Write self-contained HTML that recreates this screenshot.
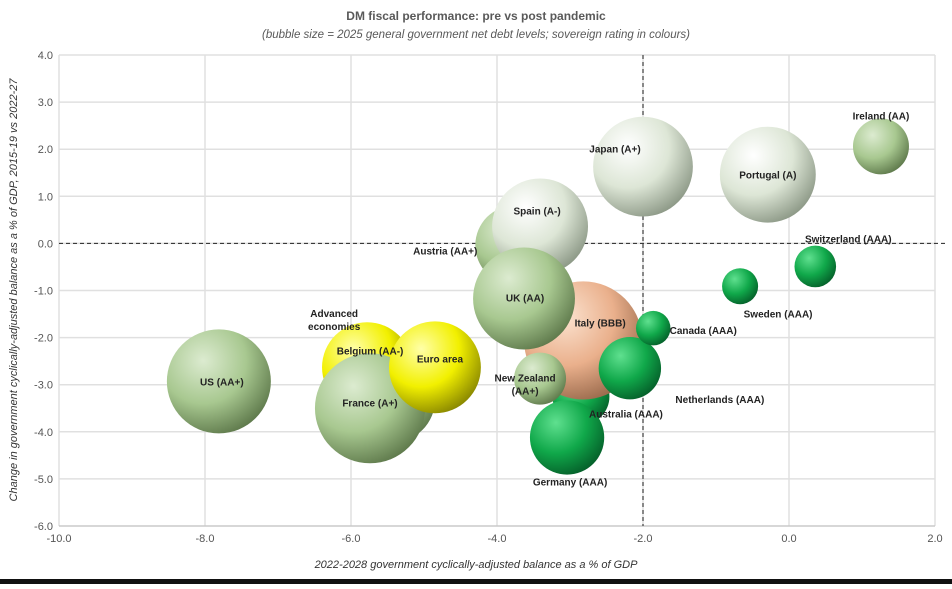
<!DOCTYPE html>
<html><head><meta charset="utf-8"><style>
body{margin:0;background:#fff;width:952px;height:584px;overflow:hidden;font-family:"Liberation Sans",sans-serif}
svg text{font-family:"Liberation Sans",sans-serif}
</style></head><body>
<svg id="c" width="952" height="584">
<defs>
<radialGradient id="gLight" cx="35%" cy="30%" r="75%"><stop offset="0" stop-color="#dcebd0"/><stop offset="0.55" stop-color="#a8c890"/><stop offset="1" stop-color="#5f7a4c"/></radialGradient>
<radialGradient id="gWhite" cx="35%" cy="30%" r="75%"><stop offset="0" stop-color="#ffffff"/><stop offset="0.55" stop-color="#dde6d6"/><stop offset="1" stop-color="#8d9987"/></radialGradient>
<radialGradient id="gDark" cx="35%" cy="30%" r="75%"><stop offset="0" stop-color="#5fe08f"/><stop offset="0.55" stop-color="#10a84a"/><stop offset="1" stop-color="#05602a"/></radialGradient>
<radialGradient id="gYellow" cx="35%" cy="30%" r="75%"><stop offset="0" stop-color="#ffffa8"/><stop offset="0.55" stop-color="#f2f000"/><stop offset="1" stop-color="#8a8800"/></radialGradient>
<radialGradient id="gPeach" cx="35%" cy="30%" r="75%"><stop offset="0" stop-color="#fbe2cf"/><stop offset="0.55" stop-color="#eab08c"/><stop offset="1" stop-color="#9a6a4c"/></radialGradient>
</defs>
<text x="476" y="20" text-anchor="middle" font-size="12" font-weight="bold" fill="#595959">DM fiscal performance: pre vs post pandemic</text>
<text x="476" y="38" text-anchor="middle" font-size="11.5" font-style="italic" fill="#595959">(bubble size = 2025 general government net debt levels; sovereign rating in colours)</text>
<g id="grid"></g><g id="axes"></g><g id="bubbles"></g><g id="labels"></g>
<text x="476" y="568" text-anchor="middle" font-size="11" font-style="italic" fill="#333">2022-2028 government cyclically-adjusted balance as a % of GDP</text>
<text transform="translate(17,290) rotate(-90)" text-anchor="middle" font-size="11" font-style="italic" fill="#333">Change in government cyclically-adjusted balance as a % of GDP, 2015-19 vs 2022-27</text>
<rect x="0" y="579" width="952" height="5" fill="#111"/>
</svg>
<script>
const names=["Japan (A+)","Portugal (A)","Ireland (AA)","Switzerland (AAA)","Sweden (AAA)","Austria (AA+)","Spain (A-)","Advanced economies","Belgium (AA-)","France (A+)","Euro area","US (AA+)","Australia (AAA)","Italy (BBB)","Germany (AAA)","UK (AA)","New Zealand (AA+)","Netherlands (AAA)","Canada (AAA)"];
const xVals=[-2.0,-0.29,1.26,0.36,-0.67,-3.75,-3.41,-5.45,-5.78,-5.74,-4.85,-7.81,-2.85,-2.82,-3.04,-3.63,-3.41,-2.18,-1.86];
const yVals=[1.63,1.46,2.06,-0.49,-0.91,-0.04,0.36,-3.3,-2.63,-3.5,-2.63,-2.93,-3.25,-2.06,-4.12,-1.17,-2.87,-2.65,-1.8];
const debt=[92,85,29,16,12,59,85,72,75,112,78,100,30,129,51,96,25,36,11];
const ratingColor=["gWhite","gWhite","gLight","gDark","gDark","gLight","gWhite","gLight","gYellow","gLight","gYellow","gLight","gDark","gPeach","gDark","gLight","gLight","gDark","gDark"];
const labelDx=[-28,0,0,33,38,-70,-3,-57,3,0,5,3,45,17,3,1,-15,90,50];
const labelDy=[-18,0,-31,-28,27,5,-16,-80,-17,-6,-9,0,17,-18,44,-1,5,31,2];
const xTicks=[-10,-8,-6,-4,-2,0,2];
const yTicks=[4,3,2,1,0,-1,-2,-3,-4,-5,-6];
const X0=59,X1=935,Y0=55,Y1=526;
const sx=v=>X0+(v+10)/12*(X1-X0);
const sy=v=>Y0+(4-v)/10*(Y1-Y0);
const rs=d=>5.2*Math.sqrt(d);
const NS="http://www.w3.org/2000/svg";
function mk(t,a,p){const e=document.createElementNS(NS,t);for(const k in a)e.setAttribute(k,a[k]);p.appendChild(e);return e;}
const grid=document.getElementById('grid'),axes=document.getElementById('axes');
yTicks.forEach(v=>{
 const l=mk('line',{x1:X0,x2:X1,y1:sy(v),y2:sy(v),stroke:'#e0e0e0','stroke-width':1.5},grid);
 
 
 const t=mk('text',{x:X0-6,y:sy(v)+4,'text-anchor':'end','font-size':11,fill:'#555'},axes);
 t.textContent=v.toFixed(1);
 
 
});
xTicks.forEach(v=>{
 const l=mk('line',{x1:sx(v),x2:sx(v),y1:Y0,y2:Y1,stroke:'#e0e0e0','stroke-width':1.5},grid);
 
 
 const t=mk('text',{x:sx(v),y:Y1+16,'text-anchor':'middle','font-size':11,fill:'#555'},axes);
 t.textContent=v.toFixed(1);
 
 
});
const bx=mk('line',{x1:X0,x2:X1,y1:Y1,y2:Y1,stroke:'#bfbfbf'},axes);


const d1=mk('line',{x1:X0,x2:X1+12,y1:sy(0),y2:sy(0),stroke:'#222','stroke-dasharray':'4,3','stroke-width':1},axes);


const d2=mk('line',{x1:sx(-2),x2:sx(-2),y1:Y0,y2:Y1,stroke:'#222','stroke-dasharray':'4,3','stroke-width':1},axes);


const bg=document.getElementById('bubbles'),lg=document.getElementById('labels');
names.forEach((n,i)=>{
 const cx=sx(xVals[i]),cy=sy(yVals[i]);
 const c=mk('circle',{cx:cx,cy:cy,r:rs(debt[i]),fill:'url(#'+ratingColor[i]+')'},bg);
 
 
 const t=mk('text',{x:cx+labelDx[i],y:cy+labelDy[i]+4,'text-anchor':'middle','font-size':10,'font-weight':'bold',fill:'#222'},lg);
 
 
 let lines=n==="Advanced economies"?["Advanced","economies"]:n==="New Zealand (AA+)"?["New Zealand","(AA+)"]:[n];
 lines.forEach((s,j)=>{const ts=mk('tspan',{x:cx+labelDx[i],dy:j?13:(lines.length>1?-6:0)},t);ts.textContent=s;});
});
</script>
</body></html>
